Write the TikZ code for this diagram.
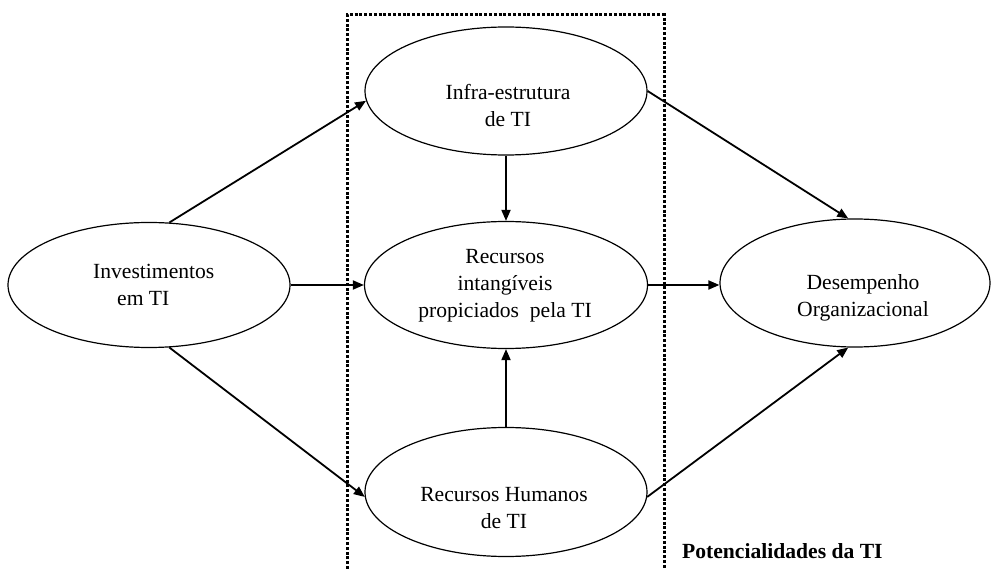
\documentclass[tikz,border=0pt]{standalone}
\usepackage{fontspec}
\setmainfont{Liberation Serif}
\usetikzlibrary{shapes.geometric,arrows.meta}

\begin{document}
\begin{tikzpicture}[x=1pt,y=-1pt,
  oval/.style={draw,ellipse,line width=1.2pt,inner sep=0pt},
  lbl/.style={align=center,inner sep=0pt,font=\fontsize{21.6}{27}\selectfont},
  flow/.style={line width=1.8pt,-{Triangle[length=11pt,width=9pt]}},
  dotline/.style={line width=3pt,dash pattern=on 3pt off 1.8pt}]
\useasboundingbox (0,0) rectangle (991,569);

% boundary of the IT capabilities block
\draw[dotline] (347,569) -- (347,15) -- (664,15) -- (664,569);

% ellipses
\node[oval,minimum width=282pt,minimum height=125pt] (inv)   at (149,285) {};
\node[oval,minimum width=282pt,minimum height=128pt] (infra) at (506,91)  {};
\node[oval,minimum width=283pt,minimum height=127pt] (rec)   at (506,285) {};
\node[oval,minimum width=282pt,minimum height=129pt] (rh)    at (506,492) {};
\node[oval,minimum width=270pt,minimum height=128pt] (des)   at (855,283) {};

% texts
\node[lbl,align=left,anchor=north west] (invT) at (93,264) {Investimentos\\\hspace*{24pt}em TI};
\node[lbl] (infraT) at (508,106) {Infra-estrutura\\de TI};
\node[lbl] (recT)   at (505,286) {Recursos\\intangíveis\\propiciados\ \ pela TI};
\node[lbl] (rhT)    at (504,508) {Recursos Humanos\\de TI};
\node[lbl] (desT)   at (863,298) {Desempenho\\Organizacional};
\node[lbl,anchor=base west,font=\fontsize{21.6}{27}\selectfont\bfseries] (cap) at (682,558) {Potencialidades da TI};

% connectors
\draw[flow] (inv.72)   -- (infra.184);
\draw[flow] (inv.east) -- (rec.west);
\draw[flow] (inv.-72)  -- (rh.182);
\draw[flow] (infra.south) -- (rec.north);
\draw[flow] (rh.north) -- (rec.south);
\draw[flow] (rec.east) -- (des.west |- rec.east);
\draw[flow] (infra.east) -- (des.96);
\draw[flow] (rh.358) -- (des.264);
\end{tikzpicture}
\end{document}
